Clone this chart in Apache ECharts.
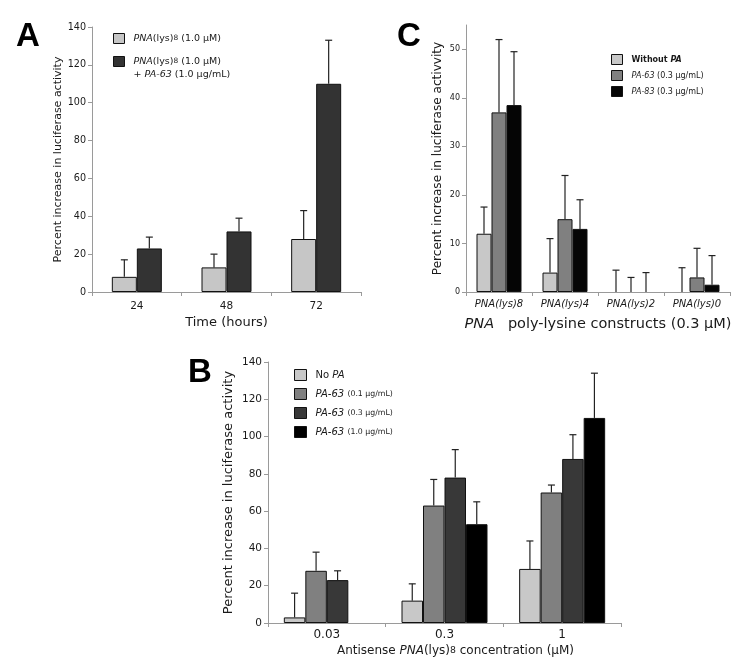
<!DOCTYPE html>
<html><head><meta charset="utf-8">
<script src="https://cdn.jsdelivr.net/npm/echarts@6/dist/echarts.min.js"></script>
<style>html,body{margin:0;padding:0;background:#fff}#c{width:750px;height:670px}</style>
</head><body><div id="c"></div>
<script>
// ---------- Panel A ----------
const aCategories = ['24', '48', '72'];
const aPna = [8, 13, 28];
const aPnaErrTop = [17, 20, 43];
const aPnaPa63 = [23, 32, 110];
const aPnaPa63ErrTop = [29, 39, 133];
const aYMax = 140, aYStep = 20;

// ---------- Panel C ----------
const cCategories = ['PNA(lys)8', 'PNA(lys)4', 'PNA(lys)2', 'PNA(lys)0'];
const cWithoutPA = [12, 4, 0, 0];
const cWithoutPAErrTop = [17.5, 11, 4.5, 5];
const cPa63 = [37, 15, 0, 3];
const cPa63ErrTop = [52, 24, 3, 9];
const cPa83 = [38.5, 13, 0, 1.5];
const cPa83ErrTop = [49.5, 19, 4, 7.5];
const cYMax = 55, cYStep = 10;

// ---------- Panel B ----------
const bCategories = ['0.03', '0.3', '1'];
const bNoPA = [3, 12, 29];
const bNoPAErrTop = [16, 21, 44];
const bPa63Low = [28, 63, 70];
const bPa63LowErrTop = [38, 77, 74];
const bPa63Mid = [23, 78, 88];
const bPa63MidErrTop = [28, 93, 101];
const bPa63High = [null, 53, 110];
const bPa63HighErrTop = [null, 65, 134];
const bYMax = 140, bYStep = 20;

const FONT = 'DejaVu Sans';
const AXC = '#9a9a9a';
const TXT = '#1a1a1a';

const legendText = {
  a1: '{i|PNA}(lys){s|8} (1.0 µM)',
  a2: '{i|PNA}(lys){s|8} (1.0 µM)\n+ {i|PA-63} (1.0 µg/mL)',
  c1: '{b|Without }{bi|PA}',
  c2: '{i|PA-63} (0.3 µg/mL)',
  c3: '{i|PA-83} (0.3 µg/mL)',
  b1: 'No {i|PA}',
  b2: '{i|PA-63} {s|(0.1 µg/mL)}',
  b3: '{i|PA-63} {s|(0.3 µg/mL)}',
  b4: '{i|PA-63} {s|(1.0 µg/mL)}'
};

function barSeries(key, gi, data, color, barW) {
  return {
    type: 'bar', name: key, xAxisIndex: gi, yAxisIndex: gi,
    data: data.map(v => v === 0 ? { value: 0, itemStyle: { borderWidth: 0 } } : v),
    barWidth: barW, barGap: '0%',
    itemStyle: { color: color, borderColor: '#111', borderWidth: 1 },
    emphasis: { disabled: true }, z: 2
  };
}
function errSeries(key, gi, data, tops, nBars, idx, barW) {
  const pts = [];
  data.forEach((v, i) => { if (v != null) pts.push([i, v, tops[i]]); });
  return {
    type: 'custom', name: key + '_err', xAxisIndex: gi, yAxisIndex: gi, z: 5, silent: true,
    data: pts,
    renderItem: function (params, api) {
      const c = api.coord([api.value(0), api.value(1)]);
      const t = api.coord([api.value(0), api.value(2)]);
      const x = c[0] + (idx - (nBars - 1) / 2) * barW;
      const cap = 7;
      const st = { stroke: '#222', lineWidth: 1.2 };
      return { type: 'group', children: [
        { type: 'line', shape: { x1: x, y1: c[1], x2: x, y2: t[1] }, style: st },
        { type: 'line', shape: { x1: x - cap / 2, y1: t[1], x2: x + cap / 2, y2: t[1] }, style: st }
      ] };
    }
  };
}

const richBase = (fs) => ({
  i: { fontStyle: 'italic', fontSize: fs, fontFamily: FONT, color: TXT },
  s: { fontSize: fs * 0.78, fontFamily: FONT, color: TXT },
  b: { fontWeight: 'bold', fontSize: fs, fontFamily: FONT, color: TXT },
  bi: { fontWeight: 'bold', fontStyle: 'italic', fontSize: fs, fontFamily: FONT, color: TXT }
});

function legendCfg(keys, left, top, fs, gap, extra) {
  return Object.assign({
    data: keys, left: left, top: top, orient: 'vertical', padding: 0,
    itemWidth: 11, itemHeight: 10, itemGap: gap, selectedMode: false,
    icon: 'rect',
    itemStyle: { borderColor: '#111', borderWidth: 1 },
    formatter: (n) => legendText[n],
    textStyle: { fontSize: fs, fontFamily: FONT, color: TXT, padding: [0, 0, 0, 4], rich: richBase(fs) }
  }, extra || {});
}

function yAx(gi, max, step, fs, name, nameGap, nameFs) {
  return {
    gridIndex: gi, type: 'value', min: 0, max: max, interval: step,
    axisLine: { show: true, lineStyle: { color: AXC } },
    axisTick: { show: true, length: 4, lineStyle: { color: AXC } },
    splitLine: { show: false },
    axisLabel: { fontSize: fs, fontFamily: FONT, color: TXT, margin: 6, showMaxLabel: max % step === 0 },
    name: name, nameLocation: 'middle', nameGap: nameGap, nameRotate: 90,
    nameTextStyle: { fontSize: nameFs, fontFamily: FONT, color: TXT }
  };
}
function xAx(gi, cats, fs, labelStyle, name, nameGap, nameFs, nameRich, namePad) {
  return {
    gridIndex: gi, type: 'category', data: cats,
    axisLine: { show: true, lineStyle: { color: AXC } },
    axisTick: { show: true, length: 4, lineStyle: { color: AXC } },
    axisLabel: Object.assign({ fontSize: fs, fontFamily: FONT, color: TXT, margin: 9 }, labelStyle || {}),
    name: name, nameLocation: 'middle', nameGap: nameGap,
    nameTextStyle: { fontSize: nameFs, fontFamily: FONT, color: TXT, rich: nameRich || {}, padding: namePad || 0 }
  };
}

const option = {
  animation: false,
  backgroundColor: '#fff',
  grid: [
    { left: 92, top: 27, width: 269, height: 265 },
    { left: 466, top: 25, width: 264, height: 267 },
    { left: 268, top: 362, width: 353, height: 261 }
  ],
  xAxis: [
    xAx(0, aCategories, 10.5, null, 'Time (hours)', 24, 13),
    xAx(1, cCategories, 10, { fontStyle: 'italic', margin: 7 },
      '{i|PNA}   poly-lysine constructs (0.3 µM)', 25, 14.5, richBase(14.5)),
    xAx(2, bCategories, 12, { margin: 6 },
      'Antisense {i|PNA}(lys){s|8} concentration (µM)', 22, 12, richBase(12), [0, 0, 0, 22])
  ],
  yAxis: [
    yAx(0, aYMax, aYStep, 9.6, 'Percent increase in luciferase activity', 28, 11),
    yAx(1, cYMax, cYStep, 8, 'Percent increase in luciferase activvity', 22, 12.1),
    yAx(2, bYMax, bYStep, 10.5, 'Percent increase in luciferase activity', 33, 13)
  ],
  legend: [
    legendCfg(['a1'], 113, 33, 9.5, 10),
    legendCfg(['a2'], 113, 42, 9.5, 10, {}),
    legendCfg(['c1', 'c2', 'c3'], 611, 54, 8, 5),
    legendCfg(['b1', 'b2', 'b3', 'b4'], 294, 369, 10, 7, { itemWidth: 12, itemHeight: 11 })
  ],
  graphic: [
    { type: 'text', left: 16, top: 20, style: { text: 'A', font: 'bold 33px "Liberation Sans"', fill: '#000' } },
    { type: 'text', left: 397, top: 20, style: { text: 'C', font: 'bold 33px "Liberation Sans"', fill: '#000' } },
    { type: 'text', left: 188, top: 356, style: { text: 'B', font: 'bold 33px "Liberation Sans"', fill: '#000' } }
  ],
  series: [
    barSeries('a1', 0, aPna, '#c6c6c6', 25),
    barSeries('a2', 0, aPnaPa63, '#333333', 25),
    errSeries('a1', 0, aPna, aPnaErrTop, 2, 0, 25),
    errSeries('a2', 0, aPnaPa63, aPnaPa63ErrTop, 2, 1, 25),

    barSeries('c1', 1, cWithoutPA, '#c8c8c8', 15),
    barSeries('c2', 1, cPa63, '#808080', 15),
    barSeries('c3', 1, cPa83, '#050505', 15),
    errSeries('c1', 1, cWithoutPA, cWithoutPAErrTop, 3, 0, 15),
    errSeries('c2', 1, cPa63, cPa63ErrTop, 3, 1, 15),
    errSeries('c3', 1, cPa83, cPa83ErrTop, 3, 2, 15),

    barSeries('b1', 2, bNoPA, '#c8c8c8', 21.5),
    barSeries('b2', 2, bPa63Low, '#808080', 21.5),
    barSeries('b3', 2, bPa63Mid, '#383838', 21.5),
    barSeries('b4', 2, bPa63High, '#000000', 21.5),
    errSeries('b1', 2, bNoPA, bNoPAErrTop, 4, 0, 21.5),
    errSeries('b2', 2, bPa63Low, bPa63LowErrTop, 4, 1, 21.5),
    errSeries('b3', 2, bPa63Mid, bPa63MidErrTop, 4, 2, 21.5),
    errSeries('b4', 2, bPa63High, bPa63HighErrTop, 4, 3, 21.5)
  ]
};
// second A legend item: pad the text so the icon lines up with its first line
option.legend[1].textStyle = Object.assign({}, option.legend[1].textStyle, { padding: [13, 0, 0, 4], lineHeight: 13 });

const chart = echarts.init(document.getElementById('c'), null, { renderer: 'canvas' });
chart.setOption(option);
</script>
</body></html>
